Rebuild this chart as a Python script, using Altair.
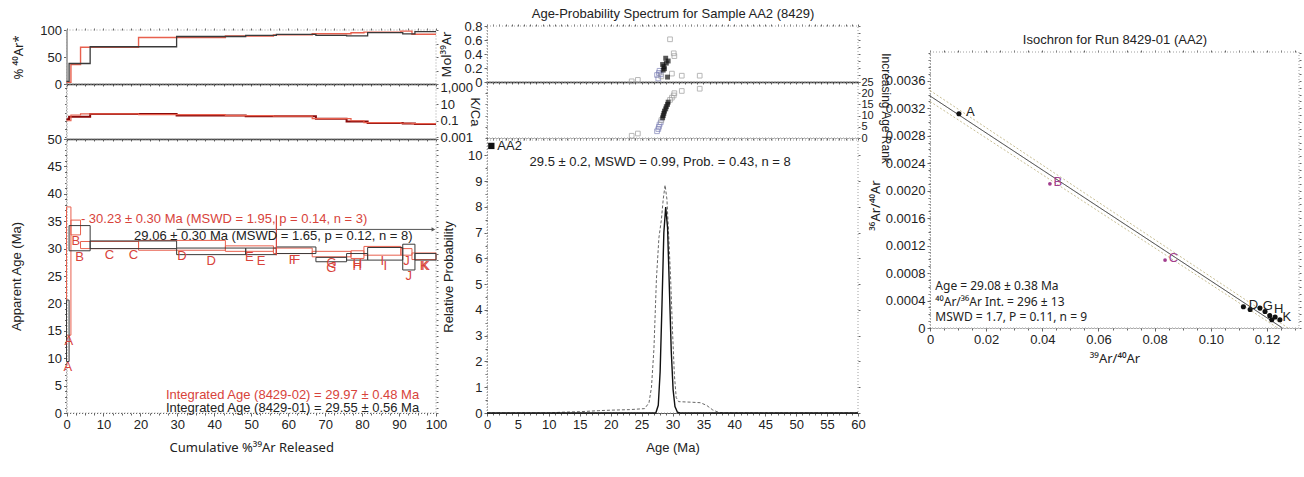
import altair as alt
import pandas as pd

W, H = 1304, 477
FONT = "Liberation Sans"
SUPFONT = "Noto Sans"
INK = "#222222"
RUN1 = "#3a3a3a"
RUN2 = "#e8604e"
KCA1 = "#8b0a0a"
REDTXT = "#d8433b"
PURPLE = "#a23d8e"
BLUEGRAY = "#7d80b6"
GRAYPT = "#9a9a9a"

# ---------------- step-heating data ----------------
step_ids = ["A", "B", "C", "D", "E", "F", "G", "H", "I", "J", "K"]

# run 8429-01 (black)
r1_start = [0.0, 0.7, 6.4, 29.8, 48.5, 56.8, 67.5, 75.8, 81.5, 91.0, 94.3]
r1_end = [0.7, 6.4, 29.8, 48.5, 56.8, 67.5, 75.8, 81.5, 91.0, 94.3, 100.0]
r1_age = [15.0, 31.9, 30.7, 29.5, 29.5, 29.7, 28.0, 28.5, 29.05, 28.45, 28.5]
r1_err = [5.6, 2.3, 0.7, 0.6, 0.6, 0.6, 0.4, 0.6, 1.15, 2.35, 0.6]
r1_rad = [5, 38, 69, 88, 90, 92, 90, 89, 95, 93, 97]
r1_kca = [0.15, 0.30, 0.65, 0.45, 0.35, 0.35, 0.17, 0.08, 0.055, 0.045, 0.04]

# run 8429-02 (red)
r2_start = [0.0, 1.2, 3.8, 19.5, 43.0, 56.0, 66.5, 77.0, 80.5, 90.5, 93.5]
r2_end = [1.2, 3.8, 19.5, 43.0, 56.0, 66.5, 77.0, 80.5, 90.5, 93.5, 100.0]
r2_age = [25.9, 33.85, 30.65, 30.6, 30.0, 29.6, 29.0, 28.9, 29.6, 29.4, 28.6]
r2_err = [11.7, 1.35, 0.65, 0.9, 0.5, 0.5, 0.5, 0.7, 0.8, 0.6, 0.6]
r2_rad = [3, 36, 68, 86, 89, 91, 93, 95, 96, 98, 92]
r2_kca = [0.10, 0.50, 0.70, 0.55, 0.42, 0.36, 0.18, 0.10, 0.06, 0.05, 0.045]

# plateau / integrated-age annotations (data coordinates: cum %39Ar, age)
note_text = ["- 30.23 ± 0.30 Ma (MSWD = 1.95, p = 0.14, n = 3)",
             "29.06 ± 0.30 Ma (MSWD = 1.65, p = 0.12, n = 8)",
             "Integrated Age (8429-02) = 29.97 ± 0.48 Ma",
             "Integrated Age (8429-01) = 29.55 ± 0.56 Ma"]
note_cum = [3.9, 18.3, 26.9, 26.9]
note_age = [35.4, 32.3, 3.3, 0.95]
note_run = ["red", "black", "red", "black"]
plat1_cum = [29.8, 99.3]
plat1_age = 33.5
plat2_cum = 56.8
plat2_age = [28.8, 36.1]

# ---------------- age-probability spectrum ----------------
spec_age = [23.4, 24.4, 27.5, 27.7, 27.8, 27.9, 28.1, 28.2, 28.4, 28.5, 28.6,
            28.7, 28.9, 29.0, 29.2, 29.3, 29.6, 29.9, 30.2, 30.3, 31.5, 34.4]
spec_mol = [0.01, 0.03, 0.10, 0.05, 0.13, 0.16, 0.11, 0.08, 0.25, 0.17, 0.22,
            0.19, 0.34, 0.27, 0.07, 0.30, 0.61, 0.12, 0.41, 0.37, 0.09, 0.09]
spec_rank = list(range(1, 23))
spec_kind = (["gray"] * 2 + ["blue"] * 5 + ["gray"] + ["plateau"] * 8 + ["gray"] * 6)

prob_all_age = [0, 10, 12, 15, 18, 20, 23, 25.5, 26.2, 26.6, 27.0, 27.4, 27.8, 28.2, 28.5,
                28.8, 29.1, 29.4, 29.7, 30.0, 30.3, 30.6, 31.0, 33.0, 34.5, 35.5, 36.5, 37.5, 38.5, 60]
prob_all_p = [0, 0, 0.03, 0.05, 0.09, 0.11, 0.13, 0.17, 0.4, 1.0, 2.5, 5.2, 6.8, 7.5, 8.3,
              8.85, 8.3, 6.8, 5.2, 3.2, 1.5, 0.6, 0.44, 0.42, 0.40, 0.30, 0.12, 0.02, 0, 0]
prob_plat_age = [0, 27.3, 27.7, 28.0, 28.3, 28.6, 28.9, 29.2, 29.5, 29.8, 30.1, 30.4, 30.8, 31.2, 60]
prob_plat_p = [0, 0, 0.3, 1.6, 4.2, 7.0, 8.0, 7.2, 4.8, 2.4, 0.9, 0.25, 0.03, 0, 0]
spec_note = "29.5 ± 0.2, MSWD = 0.99, Prob. = 0.43, n = 8"
spec_note_pos = [28.0, 9.76]
legend_pos = [0.7, 10.37]

# ---------------- isochron ----------------
iso_x = [0.0103, 0.0427, 0.0837, 0.1116, 0.1140, 0.1175, 0.1193, 0.1210, 0.1229, 0.1217, 0.1246]
iso_y = [0.00312, 0.00210, 0.00099, 0.00031, 0.00027, 0.00029, 0.00024, 0.00018, 0.00016, 0.00012, 0.00012]
iso_used = [True, False, False, True, True, True, True, True, True, True, True]
iso_fit_x = [0.0, 0.1255]
iso_fit_y = [0.00338, 0.0]
iso_env_hi_x = [0.0, 0.1275]
iso_env_hi_y = [0.00346, 0.0]
iso_env_lo_x = [0.0, 0.1238]
iso_env_lo_y = [0.00330, 0.0]
iso_lab = ["A", "B", "C", "D", "G", "H", "K"]
iso_lab_x = [0.0128, 0.0440, 0.0850, 0.1135, 0.1185, 0.1225, 0.1255]
iso_lab_y = [0.00315, 0.00212, 0.00102, 0.00033, 0.00032, 0.00028, 0.000155]
iso_lab_col = ["black", "purple", "purple", "black", "black", "black", "black"]
iso_text = ["Age =  29.08 ± 0.38 Ma", "⁴⁰Ar/³⁶Ar Int. =  296 ± 13", "MSWD = 1.7,  P = 0.11, n = 9"]
iso_text_y = [0.000615, 0.000375, 0.000165]
iso_text_x = 0.0019

# ---------------- tick values ----------------
cum_major = [0, 10, 20, 30, 40, 50, 60, 70, 80, 90, 100]
cum_minor = [i * 2.5 for i in range(41)]
rad_ticks = [0, 50, 100]
kca_ticks = [0.001, 0.1, 10, 1000]
kca_minor = [0.001, 0.01, 0.1, 1, 10, 100, 1000]
age_major = [0, 5, 10, 15, 20, 25, 30, 35, 40, 45, 50]
age_minor = list(range(0, 51))
spec_major = [0, 5, 10, 15, 20, 25, 30, 35, 40, 45, 50, 55, 60]
spec_minor = list(range(0, 61))
mol_ticks = [0, 0.2, 0.4, 0.6, 0.8]
rank_ticks = [0, 5, 10, 15, 20, 25]
prob_ticks = [0, 1, 2, 3, 4, 5, 6, 7, 8, 9, 10]
isox_major = [0, 0.02, 0.04, 0.06, 0.08, 0.10, 0.12]
isox_minor = [round(i * 0.005, 4) for i in range(27)]
isoy_major = [0, 0.0004, 0.0008, 0.0012, 0.0016, 0.0020, 0.0024, 0.0028, 0.0032, 0.0036]
isoy_minor = [round(i * 0.0001, 5) for i in range(41)]

# ---------------- panel scales (domain, pixel range, log) ----------------
PX_L = ([0, 100], [66.5, 436.0], False)
PY_L1 = ([0, 100], [84.0, 30.0], False)
PY_L2 = ([0.0006, 3000], [139.0, 84.0], True)
PY_L3 = ([0, 50], [413.0, 139.0], False)
PX_M = ([0, 60], [487.0, 858.0], False)
PY_M1 = ([0, 0.8], [82.0, 26.0], False)
PY_M2 = ([0, 25], [138.0, 82.0], False)
PY_M3 = ([0, 10.6], [413.0, 140.0], False)
PX_R = ([0, 0.1314], [930.0, 1299.0], False)
PY_R = ([0, 0.00402], [328.0, 52.0], False)


def sc(panel):
    dom, rng, log = panel
    if log:
        return alt.Scale(type="log", domain=dom, range=rng, nice=False)
    return alt.Scale(domain=dom, range=rng, nice=False, zero=False)


def AX(orient, at, values, labels=True, title=None, tick=3, domain=True, dash=None, **kw):
    off = {"left": -at, "top": -at, "right": at - W, "bottom": at - H}[orient]
    d = dict(orient=orient, offset=off, values=values, labels=labels, grid=False,
             labelFont=FONT, labelFontSize=13, labelColor=INK, labelPadding=2,
             labelFlush=False, labelOverlap=False, tickSize=tick, tickColor="#666",
             tickWidth=1, domain=domain, domainColor="#555", domainWidth=1, minExtent=0,
             titleFont=FONT, titleFontSize=13, titleFontWeight="normal", titleColor=INK,
             title=title)
    if dash is not None:
        d["domainDash"] = dash
    d.update(kw)
    return alt.Axis(**d)


def XQ(field, panel, axis=None):
    return alt.X(f"{field}:Q", scale=sc(panel), axis=axis)


def YQ(field, panel, axis=None):
    return alt.Y(f"{field}:Q", scale=sc(panel), axis=axis)


def frame(px, py, top=None, right=None):
    df = pd.DataFrame({"x0": [px[0][0]], "x1": [px[0][1]], "y0": [py[0][0]], "y1": [py[0][1]]})
    return alt.Chart(df).mark_rect(fillOpacity=0, stroke="#a0a0a0", strokeWidth=1, strokeDash=[1, 2]).encode(
        x=XQ("x0", px, top), x2="x1:Q", y=YQ("y0", py, right), y2="y1:Q")


def guide(px, py, xaxis=None, yaxis=None):
    df = pd.DataFrame({"x": [px[0][0]], "y": [py[0][0]]})
    return alt.Chart(df).mark_point(opacity=0).encode(x=XQ("x", px, xaxis), y=YQ("y", py, yaxis))


def stair(start, end, vals):
    return pd.DataFrame({"x": list(start) + [end[-1]], "v": list(vals) + [vals[-1]]})


def boxes(start, end, age, err):
    return pd.DataFrame({"step": step_ids, "x0": start, "x1": end,
                         "lo": [a - e for a, e in zip(age, err)],
                         "hi": [a + e for a, e in zip(age, err)],
                         "mid": [(s + e) / 2 for s, e in zip(start, end)]})


layers = []

# ======================= LEFT: % 40Ar* =======================
layers.append(frame(PX_L, PY_L1,
                    top=AX("top", 30, cum_minor, labels=False, domain=False, tick=2),
                    right=AX("right", 436, [0, 25, 50, 75, 100], labels=False, domain=False, tick=2)))
layers.append(alt.Chart(stair(r2_start, r2_end, r2_rad)).mark_line(
    interpolate="step-after", color=RUN2, strokeWidth=1.4).encode(
    x=XQ("x", PX_L), y=YQ("v", PY_L1)))
layers.append(alt.Chart(stair(r1_start, r1_end, r1_rad)).mark_line(
    interpolate="step-after", color=RUN1, strokeWidth=1.3).encode(
    x=XQ("x", PX_L, AX("bottom", 84, cum_minor, labels=False, tick=2, domainColor="#333", domainWidth=1.5)),
    y=YQ("v", PY_L1, AX("left", 66.5, rad_ticks, title="% ⁴⁰Ar*", titlePadding=14, titleFont=SUPFONT))))

# ======================= LEFT: K/Ca =======================
layers.append(frame(PX_L, PY_L2,
                    right=AX("right", 436, kca_ticks, format=",~g", title="K/Ca", tick=2, domain=False,
                             titleX=31, titleY=111.5, titleAngle=90, titleBaseline="bottom",
                             titleAlign="center")))
layers.append(alt.Chart(stair(r1_start, r1_end, r1_kca)).mark_line(
    interpolate="step-after", color=KCA1, strokeWidth=2).encode(
    x=XQ("x", PX_L, AX("bottom", 139, cum_minor, labels=False, tick=2, domainColor="#333", domainWidth=1.5)),
    y=YQ("v", PY_L2, AX("left", 66.5, kca_minor, labels=False, tick=2, dash=[1, 2]))))
layers.append(alt.Chart(stair(r2_start, r2_end, r2_kca)).mark_line(
    interpolate="step-after", color=RUN2, strokeWidth=1.2).encode(
    x=XQ("x", PX_L), y=YQ("v", PY_L2)))

# ======================= LEFT: Apparent age spectrum =======================
layers.append(frame(PX_L, PY_L3,
                    right=AX("right", 436, age_minor, labels=False, domain=False, tick=2)))
layers.append(guide(PX_L, PY_L3,
                    xaxis=AX("bottom", 413, cum_minor, labels=False, domain=False, tick=2),
                    yaxis=AX("left", 66.5, age_minor, labels=False, domain=False, tick=2)))
b1 = boxes(r1_start, r1_end, r1_age, r1_err)
b2 = boxes(r2_start, r2_end, r2_age, r2_err)
layers.append(alt.Chart(b2).mark_rect(fillOpacity=0, stroke=RUN2, strokeWidth=1).encode(
    x=XQ("x0", PX_L), x2="x1:Q", y=YQ("lo", PY_L3), y2="hi:Q"))
layers.append(alt.Chart(b1).mark_rect(fillOpacity=0, stroke=RUN1, strokeWidth=1).encode(
    x=XQ("x0", PX_L, AX("bottom", 413, cum_major, title="Cumulative %³⁹Ar Released", titlePadding=10,
                       dash=[1, 2], titleFont=SUPFONT)),
    x2="x1:Q",
    y=YQ("lo", PY_L3, AX("left", 66.5, age_major, title="Apparent Age (Ma)", titlePadding=24, dash=[1, 2])),
    y2="hi:Q"))
for bdf in (b2, b1):
    layers.append(alt.Chart(bdf).mark_text(font=FONT, fontSize=13, color=REDTXT, baseline="top",
                                           align="center").encode(
        x=XQ("mid", PX_L), y=YQ("lo", PY_L3), text="step:N"))
# plateau markers
plat1 = pd.DataFrame({"x0": [plat1_cum[0]], "x1": [plat1_cum[1]], "y": [plat1_age]})
layers.append(alt.Chart(plat1).mark_rule(color="#555", strokeWidth=1).encode(
    x=XQ("x0", PX_L), x2="x1:Q", y=YQ("y", PY_L3)))
layers.append(alt.Chart(pd.DataFrame({"x": [plat1_cum[1]], "y": [plat1_age]})).mark_point(
    shape="triangle-right", filled=True, size=18, color="#555", opacity=1).encode(
    x=XQ("x", PX_L), y=YQ("y", PY_L3)))
plat2 = pd.DataFrame({"x": [plat2_cum], "y0": [plat2_age[0]], "y1": [plat2_age[1]]})
layers.append(alt.Chart(plat2).mark_rule(color=REDTXT, strokeWidth=1.2).encode(
    x=XQ("x", PX_L), y=YQ("y0", PY_L3), y2="y1:Q"))
notes = pd.DataFrame({"t": note_text, "x": note_cum, "y": note_age, "run": note_run})
layers.append(alt.Chart(notes).mark_text(font=FONT, fontSize=13, align="left", baseline="middle").encode(
    x=XQ("x", PX_L), y=YQ("y", PY_L3), text="t:N",
    color=alt.Color("run:N", scale=alt.Scale(domain=["red", "black"], range=[REDTXT, INK]), legend=None)))

# ======================= MIDDLE: Mol 39Ar =======================
spec = pd.DataFrame({"age": spec_age, "mol": spec_mol, "rank": spec_rank, "kind": spec_kind})
layers.append(frame(PX_M, PY_M1,
                    top=AX("top", 26, spec_minor, labels=False, domain=False, tick=2,
                           title="Age-Probability Spectrum for Sample AA2 (8429)", titlePadding=3),
                    right=AX("right", 858, [0, 0.1, 0.2, 0.3, 0.4, 0.5, 0.6, 0.7, 0.8], labels=False,
                             domain=False, tick=2)))
kind_scale = alt.Scale(domain=["gray", "blue", "plateau"], range=[GRAYPT, BLUEGRAY, "#111111"])
layers.append(alt.Chart(spec[spec.kind != "plateau"]).mark_square(filled=False, size=22, strokeWidth=1).encode(
    x=XQ("age", PX_M, AX("bottom", 82, spec_minor, labels=False, tick=2, domainColor="#333", domainWidth=1.5)),
    y=YQ("mol", PY_M1, AX("left", 487, mol_ticks, title="Mol³⁹Ar", titlePadding=10, titleFont=SUPFONT,
                         labelExpr="datum.value == 0 ? '0' : format(datum.value, '.1f')", dash=[1, 2])),
    color=alt.Color("kind:N", scale=kind_scale, legend=None)))
layers.append(alt.Chart(spec[spec.kind == "plateau"]).mark_square(filled=True, size=24, color="#111111").encode(
    x=XQ("age", PX_M), y=YQ("mol", PY_M1)))

# ======================= MIDDLE: age rank =======================
layers.append(frame(PX_M, PY_M2,
                    right=AX("right", 858, rank_ticks, title="Increasing Age Rank", tick=2, labelPadding=1,
                             labelFontSize=11, domain=False, titleX=20, titleY=108, titleAngle=90,
                             titleBaseline="bottom", titleAlign="center", titleFontSize=12)))
layers.append(alt.Chart(spec[spec.kind != "plateau"]).mark_square(filled=False, size=22, strokeWidth=1).encode(
    x=XQ("age", PX_M, AX("bottom", 138, spec_minor, labels=False, tick=2, dash=[1, 2])),
    y=YQ("rank", PY_M2, AX("left", 487, rank_ticks, labels=False, tick=2, dash=[1, 2])),
    color=alt.Color("kind:N", scale=kind_scale, legend=None)))
layers.append(alt.Chart(spec[spec.kind == "plateau"]).mark_square(filled=True, size=24, color="#111111").encode(
    x=XQ("age", PX_M), y=YQ("rank", PY_M2)))

# ======================= MIDDLE: relative probability =======================
layers.append(frame(PX_M, PY_M3,
                    right=AX("right", 858, prob_ticks, labels=False, domain=False, tick=2)))
layers.append(guide(PX_M, PY_M3,
                    xaxis=AX("bottom", 413, spec_minor, labels=False, domain=False, tick=2),
                    yaxis=AX("left", 487, [i * 0.5 for i in range(21)], labels=False, domain=False, tick=2)))
layers.append(alt.Chart(pd.DataFrame({"a": prob_all_age, "p": prob_all_p})).mark_line(
    color="#555", strokeWidth=0.9, strokeDash=[3, 2]).encode(
    x=XQ("a", PX_M), y=YQ("p", PY_M3)))
layers.append(alt.Chart(pd.DataFrame({"a": prob_plat_age, "p": prob_plat_p})).mark_line(
    color="#111", strokeWidth=1.4).encode(
    x=XQ("a", PX_M, AX("bottom", 413, spec_major, title="Age (Ma)", titlePadding=10)),
    y=YQ("p", PY_M3, AX("left", 487, prob_ticks, title="Relative Probability", titlePadding=12,
                       dash=[1, 2]))))
layers.append(alt.Chart(pd.DataFrame({"x": [legend_pos[0]], "y": [legend_pos[1]]})).mark_square(
    filled=True, size=40, color="#111", opacity=1).encode(x=XQ("x", PX_M), y=YQ("y", PY_M3)))
layers.append(alt.Chart(pd.DataFrame({"x": [legend_pos[0]], "y": [legend_pos[1]], "t": ["AA2"]})).mark_text(
    font=FONT, fontSize=13, align="left", baseline="middle", dx=6, color=INK).encode(
    x=XQ("x", PX_M), y=YQ("y", PY_M3), text="t:N"))
layers.append(alt.Chart(pd.DataFrame({"x": [spec_note_pos[0]], "y": [spec_note_pos[1]], "t": [spec_note]})).mark_text(
    font=FONT, fontSize=13, align="center", baseline="middle", color=INK).encode(
    x=XQ("x", PX_M), y=YQ("y", PY_M3), text="t:N"))

# ======================= RIGHT: isochron =======================
layers.append(frame(PX_R, PY_R,
                    top=AX("top", 52, isox_minor, labels=False, domain=False, tick=2,
                           title="Isochron for Run 8429-01 (AA2)", titlePadding=3),
                    right=AX("right", 1299, isoy_minor, labels=False, domain=False, tick=2)))
layers.append(guide(PX_R, PY_R,
                    xaxis=AX("bottom", 328, isox_minor, labels=False, domain=False, tick=2),
                    yaxis=AX("left", 930, isoy_minor, labels=False, domain=False, tick=2)))
for xs, ys, col, dash, wdt in ((iso_env_hi_x, iso_env_hi_y, "#c9bf95", [2, 2], 1.0),
                               (iso_env_lo_x, iso_env_lo_y, "#c9bf95", [2, 2], 1.0),
                               (iso_fit_x, iso_fit_y, "#333", [1, 0], 1.0)):
    layers.append(alt.Chart(pd.DataFrame({"x": xs, "y": ys})).mark_line(
        color=col, strokeDash=dash, strokeWidth=wdt).encode(x=XQ("x", PX_R), y=YQ("y", PY_R)))
iso = pd.DataFrame({"x": iso_x, "y": iso_y, "used": iso_used})
layers.append(alt.Chart(iso[iso.used]).mark_circle(size=26, color="#111", opacity=1).encode(
    x=XQ("x", PX_R, AX("bottom", 328, isox_major, title="³⁹Ar/⁴⁰Ar", titlePadding=6, dash=[1, 2],
                      titleFont=SUPFONT,
                      labelExpr="datum.value == 0 ? '0' : format(datum.value, '.2f')")),
    y=YQ("y", PY_R, AX("left", 930, isoy_major, title="³⁶Ar/⁴⁰Ar", dash=[1, 2],
                      titleFont=SUPFONT, titleX=-48, titleY=205, titleAngle=270,
                      titleBaseline="bottom", titleAlign="center",
                      labelExpr="datum.value == 0 ? '0' : format(datum.value, '.4f')"))))
layers.append(alt.Chart(iso[~iso.used]).mark_circle(size=14, color=PURPLE, opacity=1).encode(
    x=XQ("x", PX_R), y=YQ("y", PY_R)))
isolab = pd.DataFrame({"t": iso_lab, "x": iso_lab_x, "y": iso_lab_y, "c": iso_lab_col})
layers.append(alt.Chart(isolab).mark_text(font=FONT, fontSize=13, align="left", baseline="middle").encode(
    x=XQ("x", PX_R), y=YQ("y", PY_R), text="t:N",
    color=alt.Color("c:N", scale=alt.Scale(domain=["black", "purple"], range=[INK, PURPLE]), legend=None)))
isotxt = pd.DataFrame({"t": iso_text, "x": [iso_text_x] * 3, "y": iso_text_y})
layers.append(alt.Chart(isotxt).mark_text(font=SUPFONT, fontSize=12, align="left", baseline="middle",
                                          color=INK).encode(
    x=XQ("x", PX_R), y=YQ("y", PY_R), text="t:N"))

chart = alt.layer(*layers).resolve_scale(
    x="independent", y="independent", color="independent"
).properties(
    width=W, height=H, autosize=alt.AutoSizeParams(type="none"), padding=0, background="white"
).configure_view(stroke=None)

chart.save("out.html", embed_options={"renderer": "svg", "actions": False})
